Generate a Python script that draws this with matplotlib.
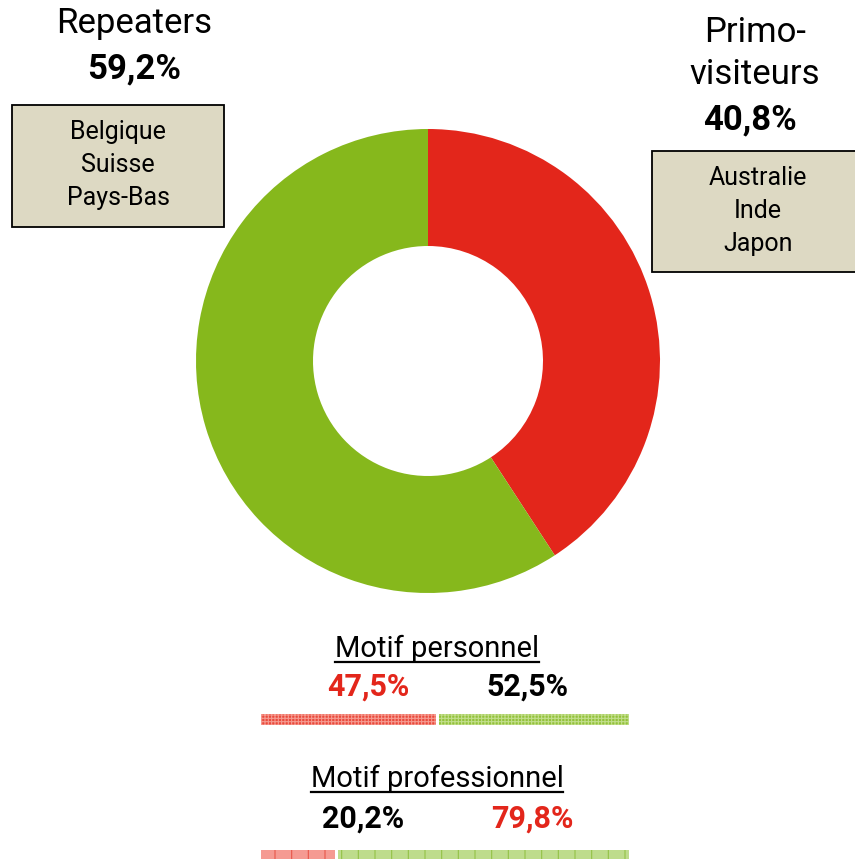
import matplotlib.pyplot as plt

# Données
segments = ['Primo-visiteurs', 'Repeaters']
parts = [40.8, 59.2]
couleurs = ['#e3261b', '#86b81c']

pays_repeaters = ['Belgique', 'Suisse', 'Pays-Bas']
pays_primo = ['Australie', 'Inde', 'Japon']

motifs = ['Motif personnel', 'Motif professionnel']
motif_primo = [47.5, 20.2]
motif_repeat = [52.5, 79.8]

plt.rcParams['font.family'] = ['Roboto', 'DejaVu Sans']
plt.rcParams['hatch.linewidth'] = 0.8

W, H = 855, 859
fig = plt.figure(figsize=(W / 100, H / 100), dpi=100)
ax = fig.add_axes([0, 0, 1, 1])


def py(y):
    return H - y


def pct(v):
    return f'{v}%'.replace('.', ',')


# Anneau
ax.pie(parts, colors=couleurs, startangle=90, counterclock=False,
       center=(428, py(361)), radius=232, frame=True,
       wedgeprops=dict(width=117, linewidth=0))
ax.set_xlim(0, W)
ax.set_ylim(0, H)
ax.set_aspect('auto')
ax.axis('off')

# Titres
ax.text(134, py(23), 'Repeaters', ha='center', va='center', fontsize=25)
ax.text(134, py(69), pct(parts[1]), ha='center', va='center', fontsize=25, fontweight='bold')
ax.text(755, py(33), 'Primo-', ha='center', va='center', fontsize=25)
ax.text(755, py(75), 'visiteurs', ha='center', va='center', fontsize=25)
ax.text(750, py(120), pct(parts[0]), ha='center', va='center', fontsize=25, fontweight='bold')


# Encadrés pays
def encadre(x0, y0, x1, y1, noms, cx, y_first):
    ax.add_patch(plt.Rectangle((x0, py(y1)), x1 - x0, y1 - y0, facecolor='#ddd9c3',
                               edgecolor='black', linewidth=1.3, clip_on=False))
    for i, n in enumerate(noms):
        ax.text(cx, py(y_first + 33 * i), n, ha='center', va='center', fontsize=18)


encadre(12, 105, 224, 227, pays_repeaters, 118, 132)
encadre(652, 151, 856, 272, pays_primo, 758, 178)

# Barres motifs
fig.canvas.draw()
renderer = fig.canvas.get_renderer()
echelle = 3.68
x_depart = 261
bar_y = [719.5, 855]
titre_y = [649, 779]
val_y = [687, 819]
styles = [
    (dict(facecolor='#ea4a3c', hatch='+++++', edgecolor='#f59a90'),
     dict(facecolor='#93c23a', hatch='+++++', edgecolor='#c2de8c')),
    (dict(facecolor='#f59a92', hatch='|', edgecolor='#e8564a'),
     dict(facecolor='#bedc8c', hatch='|', edgecolor='#94c247')),
]
for i, m in enumerate(motifs):
    t = ax.text(437, py(titre_y[i]), m, ha='center', va='center', fontsize=21)
    bb = t.get_window_extent(renderer)
    ax.plot([bb.x0, bb.x1], [py(titre_y[i] + 13)] * 2, color='black', linewidth=1.6)
    w1 = motif_primo[i] * echelle
    w2 = motif_repeat[i] * echelle
    s1, s2 = styles[i]
    ax.barh(py(bar_y[i]), w1, left=x_depart, height=11, linewidth=0, **s1)
    ax.barh(py(bar_y[i]), w2 - 3, left=x_depart + w1 + 3, height=11, linewidth=0, **s2)
    rouge_gauche = i == 0
    ax.text(368 if i == 0 else 363, py(val_y[i]), pct(motif_primo[i]),
            ha='center', va='center', fontsize=22, fontweight='bold',
            color='#e3261b' if rouge_gauche else 'black')
    ax.text(527 if i == 0 else 532, py(val_y[i]), pct(motif_repeat[i]),
            ha='center', va='center', fontsize=22, fontweight='bold',
            color='black' if rouge_gauche else '#e3261b')

fig.savefig('out.png', dpi=100)
